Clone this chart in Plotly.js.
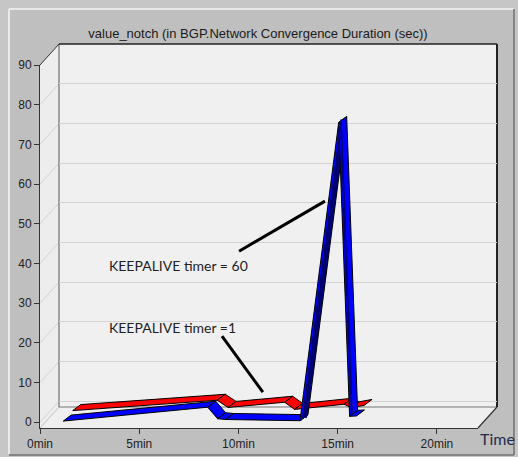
<!DOCTYPE html>
<html><head><meta charset="utf-8">
<script src="https://cdn.plot.ly/plotly-3.0.1.min.js"></script>
<style>html,body{margin:0;padding:0;background:#c6c6c6;overflow:hidden}</style>
</head><body><div id="chart" style="width:518px;height:457px"></div>
<script>
// ---- data ----
const blueTime  = [1.17, 8.45, 8.95, 9.35, 13.1, 15.05, 15.6, 15.95];
const blueValue = [0.3, 3.8, 0.9, 0.7, 0.4, 75.5, 1.5, 1.6];
const redTime   = [1.17, 8.45, 9.0, 11.85, 12.35, 14.85, 15.2, 15.85];
const redValue  = [0.3, 2.9, 1.1, 2.4, 0.6, 1.9, 1.0, 1.6];
const xTickVals = [0, 5, 10, 15, 20];
const xTickText = ['0min', '5min', '10min', '15min', '20min'];
const yTickVals = [0, 10, 20, 30, 40, 50, 60, 70, 80, 90];
const titleText = 'value_notch (in BGP.Network Convergence Duration (sec))';
const label60 = 'KEEPALIVE timer = 60';
const label1 = 'KEEPALIVE timer =1';
const xAxisLabel = 'Time';

// ---- geometry ----
const W = 518, H = 457, L = 40, R = 21, T = 44, B = 29;
const PW = W - L - R, PH = H - T - B;
const FRONT_W = 438, FRONT_H = 363, DEPTH_X = 19, DEPTH_Y = 21;
const X_RANGE = [0, 22.07], Y_RANGE = [-1.44, 90];
const pxPerMin = FRONT_W / (X_RANGE[1] - X_RANGE[0]);
const pxPerSec = FRONT_H / (Y_RANGE[1] - Y_RANGE[0]);
const fx = x => (x - L) / PW;
const fy = y => (H - B - y) / PH;
const yFrontPx = v => (H - B) - (v - Y_RANGE[0]) * pxPerSec;

// ribbon: depth position (px) and ribbon thickness (px)
const RIB_DX = 8, RIB_DY = 6;
function ribbon(ts, vs, depthPx, color, dark) {
  const sx = depthPx / pxPerMin, sy = depthPx * DEPTH_Y / DEPTH_X / pxPerSec;
  const ox = RIB_DX / pxPerMin, oy = RIB_DY / pxPerSec;
  const out = [];
  const seg = (xs, ys, c, w) => out.push({
    type: 'scatter', mode: 'lines', xaxis: 'x2', yaxis: 'y2', x: xs, y: ys,
    line: {color: c, width: w}, hoverinfo: 'skip', showlegend: false
  });
  for (let i = 0; i < ts.length - 1; i++) {
    const x0 = ts[i] + sx, y0 = vs[i] + sy, x1 = ts[i + 1] + sx, y1 = vs[i + 1] + sy;
    const dxp = (ts[i + 1] - ts[i]) * pxPerMin, dyp = (vs[i + 1] - vs[i]) * pxPerSec;
    const steepUp = dyp > 3 * Math.abs(dxp);
    const steepDown = -dyp > 3 * Math.abs(dxp);
    out.push({
      type: 'scatter', mode: 'lines', xaxis: 'x2', yaxis: 'y2',
      x: [x0, x1, x1 + ox, x0 + ox, x0], y: [y0, y1, y1 + oy, y0 + oy, y0],
      fill: 'toself', fillcolor: steepUp ? dark : color,
      line: {color: '#000000', width: 1}, hoverinfo: 'skip', showlegend: false
    });
    if (steepUp) {
      // dark side face with a thin bright edge
      seg([x0 + ox * 0.55, x1 + ox * 0.55], [y0 + oy * 0.5, y1 + oy * 0.5], dark, 5);
      seg([x0 + ox * 0.14, x1 + ox * 0.14], [y0, y1], color, 1.2);
    } else if (steepDown) {
      seg([x0 + ox * 0.28, x1 + ox * 0.28], [y0 + oy * 0.3, y1 + oy * 0.3], dark, 2);
    }
  }
  return out;
}

// empty trace so the back-wall subplot (grid) is drawn
const backWall = {type: 'scatter', mode: 'lines', x: [], y: [], xaxis: 'x', yaxis: 'y',
                  hoverinfo: 'skip', showlegend: false};

const traces = [backWall].concat(
  ribbon(redTime, redValue, 9.5, '#ff0000', '#900000'),
  ribbon(blueTime, blueValue, 0, '#0000ff', '#000070')
);

// ---- frame / 3D box shapes ----
const shapes = [];
const pline = (x0, y0, x1, y1, color, width) => shapes.push({
  type: 'line', xref: 'paper', yref: 'paper', x0: fx(x0), y0: fy(y0), x1: fx(x1), y1: fy(y1),
  line: {color: color, width: width}, layer: 'below'
});
const ppoly = (pts, fill) => shapes.push({
  type: 'path', xref: 'paper', yref: 'paper', layer: 'below',
  path: 'M' + pts.map(p => fx(p[0]) + ',' + fy(p[1])).join(' L') + ' Z',
  fillcolor: fill, line: {width: 0}
});
// panel
ppoly([[9, 9], [514, 9], [514, 454], [9, 454]], '#bfbfbf');
pline(9, 9, 514, 9, '#e9e9e9', 2);
pline(9, 9, 9, 454, '#e9e9e9', 2);
pline(514, 9, 514, 455, '#6f6f6f', 1.5);
pline(9, 455, 514, 455, '#6f6f6f', 1.5);
// walls
const fl = L, fr = L + FRONT_W, ft = yFrontPx(90), fb = H - B;
const bl = fl + DEPTH_X, br = fr + DEPTH_X, bt = ft - DEPTH_Y, bb = fb - DEPTH_Y;
ppoly([[bl, bt], [br, bt], [br, bb], [bl, bb]], '#f0f0f0');
ppoly([[fl, ft], [bl, bt], [bl, bb], [fl, fb]], '#ededed');
ppoly([[fl, fb], [bl, bb], [br, bb], [fr, fb]], '#efefef');
yTickVals.forEach(v => {
  const y = yFrontPx(v);
  pline(fl, y, bl, y - DEPTH_Y, '#d3d3d3', 1);
});
pline(fl, fb, bl, bb, '#c4c4c4', 1);
// box edges
const edges = [];
const eline = (x0, y0, x1, y1, color, width) => edges.push({
  type: 'line', xref: 'paper', yref: 'paper', x0: fx(x0), y0: fy(y0), x1: fx(x1), y1: fy(y1),
  line: {color: color, width: width}, layer: 'between'
});
eline(bl, bt, bl, bb, '#555555', 1);
eline(bl, bb, br, bb, '#777777', 1);
eline(fl, ft, bl, bt, '#333333', 1);
eline(bl, bt, br, bt, '#222222', 1.5);
eline(br, bt, br, bb, '#222222', 2);
eline(br, bb, fr, fb, '#333333', 1.2);

// pointer lines
const pointers = [
  {x0: 10.03, y0: 43.1, x1: 14.36, y1: 55.7},
  {x0: 9.17, y0: 21.7, x1: 11.23, y1: 7.6}
].map(p => Object.assign({type: 'line', xref: 'x2', yref: 'y2', line: {color: '#000', width: 3}}, p));

const layout = {
  width: W, height: H,
  margin: {l: L, r: R, t: T, b: B, autoexpand: false},
  paper_bgcolor: '#c6c6c6', plot_bgcolor: 'rgba(0,0,0,0)',
  font: {family: 'Liberation Sans, Arial, sans-serif', size: 12, color: '#222'},
  showlegend: false,
  title: {text: titleText, x: 258 / W, xref: 'container', xanchor: 'center',
          y: 1 - 33 / H, yref: 'container', yanchor: 'middle',
          font: {family: 'Liberation Sans, Arial, sans-serif', size: 13, color: '#1a1a1a'}},
  // back wall axes (grid only)
  xaxis: {domain: [DEPTH_X / PW, 1], range: X_RANGE, showgrid: false, zeroline: false,
          showticklabels: false, ticks: '', showline: false, fixedrange: true},
  yaxis: {domain: [DEPTH_Y / PH, 1], range: Y_RANGE, tickmode: 'array', tickvals: yTickVals,
          showgrid: true, gridcolor: '#d2d2d2', gridwidth: 1, zeroline: false,
          showticklabels: false, ticks: '', showline: false, fixedrange: true},
  // front axes (data, ticks and labels)
  xaxis2: {domain: [0, FRONT_W / PW], range: X_RANGE, anchor: 'y2', tickvals: xTickVals,
           ticktext: xTickText, ticks: 'outside', ticklen: 5, tickcolor: '#333',
           showline: true, linecolor: '#333', linewidth: 1, showgrid: false, zeroline: false,
           tickfont: {size: 12, color: '#222'}, fixedrange: true},
  yaxis2: {domain: [0, FRONT_H / PH], range: Y_RANGE, anchor: 'x2', tickvals: yTickVals,
           ticks: 'outside', ticklen: 5, tickcolor: '#333', showline: true, linecolor: '#333',
           linewidth: 1, showgrid: false, zeroline: false,
           tickfont: {size: 12, color: '#222'}, fixedrange: true},
  shapes: shapes.concat(edges, pointers),
  annotations: [
    {xref: 'x2', yref: 'y2', x: 3.376, y: 39.6, text: label60, showarrow: false,
     xanchor: 'left', yanchor: 'middle', font: {family: 'Lato, Open Sans, sans-serif', size: 14, color: '#1e1e1e'}},
    {xref: 'x2', yref: 'y2', x: 3.376, y: 24.0, text: label1, showarrow: false,
     xanchor: 'left', yanchor: 'middle', font: {family: 'Lato, Open Sans, sans-serif', size: 14, color: '#1e1e1e'}},
    {xref: 'paper', yref: 'paper', x: fx(478), y: fy(438), text: xAxisLabel, showarrow: false,
     xanchor: 'left', yanchor: 'middle', font: {family: 'Lato, Open Sans, sans-serif', size: 16, color: '#1f2d4d'}}
  ]
};

Plotly.newPlot('chart', traces, layout, {displayModeBar: false, staticPlot: true});
</script>
</body></html>
